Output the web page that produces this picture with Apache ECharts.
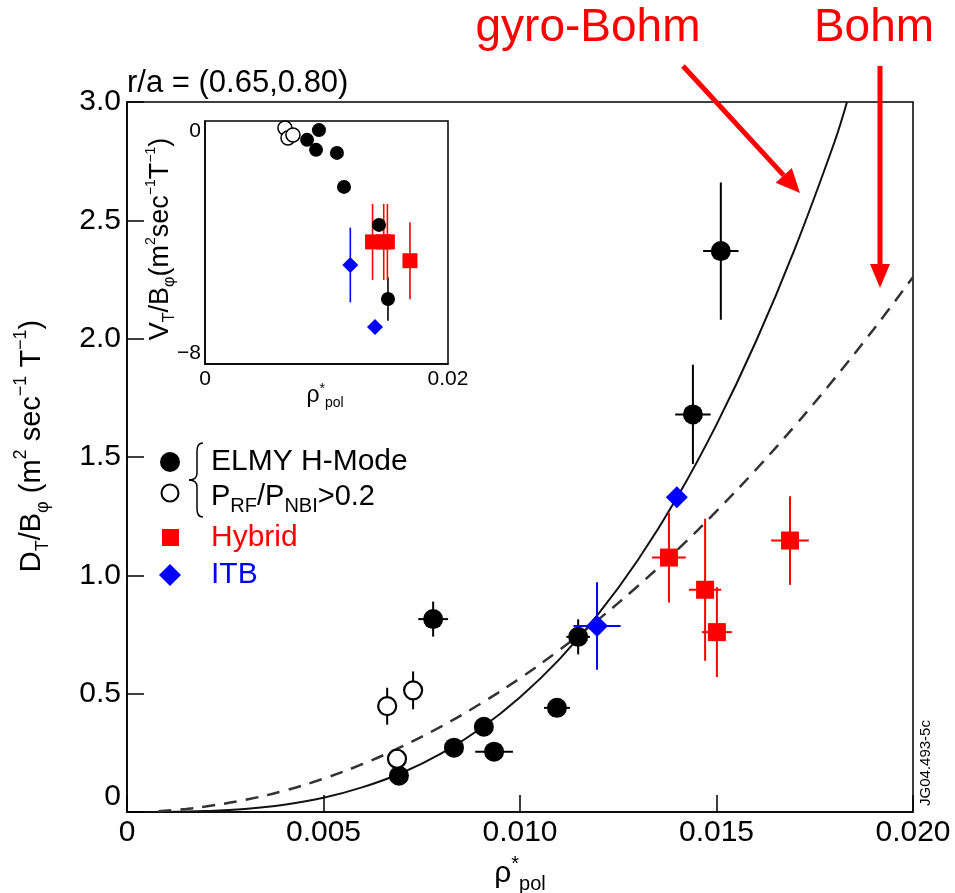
<!DOCTYPE html>
<html><head><meta charset="utf-8">
<script src="https://cdn.jsdelivr.net/npm/echarts@6/dist/echarts.min.js"></script>
<style>html,body{margin:0;padding:0;background:#fff}#c{width:955px;height:893px}</style>
</head><body><div id="c"></div>
<script>
// ---------- Main panel data: D_T/B_phi vs rho*_pol ----------
const elmyX    = [0.00692, 0.00832, 0.00908, 0.00934, 0.00779, 0.01094, 0.01148, 0.01440, 0.01511];
const elmyY    = [0.153,   0.272,   0.360,   0.255,   0.815,   0.440,   0.740,   1.680,   2.370];
const elmyXErr = [0,       0,       0,       0.00048, 0.00038, 0.00033, 0.00030, 0.00045, 0.00045];
const elmyYErr = [0,       0,       0,       0,       0.074,   0,       0.074,   0.210,   0.290];

const rfX    = [0.00662, 0.00728, 0.00687];
const rfY    = [0.447,   0.514,   0.225];
const rfXErr = [0,       0,       0];
const rfYErr = [0.078,   0.080,   0];

const hybX    = [0.01379, 0.01471, 0.01501, 0.01687];
const hybY    = [1.075,   0.939,   0.760,   1.147];
const hybXErr = [0.00043, 0.00041, 0.00038, 0.00048];
const hybYErr = [0.190,   0.300,   0.190,   0.187];

const itbX    = [0.01399, 0.01196];
const itbY    = [1.330,   0.786];
const itbXErr = [0,       0.00060];
const itbYErr = [0,       0.185];

// theory curves
const gyroBohmX = [0.0010, 0.0020, 0.0030, 0.0040, 0.0050, 0.0060, 0.0070, 0.0080, 0.0090, 0.0100, 0.0110, 0.0120, 0.0130, 0.0140, 0.0150, 0.0160, 0.0170, 0.0180, 0.01832];
const gyroBohmY = [0.000,  0.004,  0.013,  0.031,  0.060,  0.105,  0.166,  0.248,  0.353,  0.485,  0.645,  0.838,  1.065,  1.330,  1.637,  1.987,  2.383,  2.830,  3.000];
const bohmX = [0.0008, 0.0015, 0.0020, 0.0030, 0.0040, 0.0050, 0.0060, 0.0070, 0.0080, 0.0090, 0.0100, 0.0110, 0.0120, 0.0130, 0.0140, 0.0150, 0.0160, 0.0170, 0.0180, 0.0190, 0.0200];
const bohmY = [0.003,  0.013,  0.023,  0.051,  0.090,  0.141,  0.203,  0.277,  0.362,  0.458,  0.565,  0.684,  0.814,  0.955,  1.107,  1.271,  1.446,  1.633,  1.831,  2.040,  2.260];

// ---------- Inset data: V_T/B_phi vs rho*_pol ----------
const inElmyX = [0.00938, 0.00840, 0.00914, 0.01086, 0.01144, 0.01432, 0.01506];
const inElmyY = [-0.30,   -0.62,   -0.95,   -1.05,   -2.17,   -3.42,   -5.86];
const inElmyYErr = [0,    0,       0,       0,       0,       0,       0.72];
const inRfX = [0.00658, 0.00683, 0.00724];
const inRfY = [-0.23,   -0.56,   -0.46];
const inHybX = [0.01379, 0.01471, 0.01501, 0.01687];
const inHybY = [-3.98,   -3.98,   -3.98,   -4.60];
const inHybYErr = [1.25, 1.25,    1.25,    1.27];
const inItbX = [0.01196, 0.01399];
const inItbY = [-4.74,   -6.78];
const inItbYErr = [1.23, 0];

// axis ticks
const mainXTicks = [0, 0.005, 0.010, 0.015, 0.020];
const mainYTicks = [0, 0.5, 1.0, 1.5, 2.0, 2.5, 3.0];

// ---------- build ----------
const FF = '"Liberation Sans", Arial, Helvetica, sans-serif';
const zip = (...a) => a[0].map((_, i) => a.map(arr => arr[i]));
const zeros = n => new Array(n).fill(0);

function errRender(color, lw) {
  return function (params, api) {
    const x = api.value(0), y = api.value(1), xe = api.value(2), ye = api.value(3);
    const ch = [];
    if (ye > 0) {
      const a = api.coord([x, y - ye]), b = api.coord([x, y + ye]);
      ch.push({type: 'line', shape: {x1: a[0], y1: a[1], x2: b[0], y2: b[1]}, style: {stroke: color, lineWidth: lw}});
    }
    if (xe > 0) {
      const a = api.coord([x - xe, y]), b = api.coord([x + xe, y]);
      ch.push({type: 'line', shape: {x1: a[0], y1: a[1], x2: b[0], y2: b[1]}, style: {stroke: color, lineWidth: lw}});
    }
    return {type: 'group', children: ch};
  };
}
function errSeries(data, color, lw, axisIdx) {
  return {type: 'custom', xAxisIndex: axisIdx, yAxisIndex: axisIdx, renderItem: errRender(color, lw),
    dimensions: ['x', 'y', 'xe', 'ye'], encode: {x: 0, y: 1}, data: data, z: axisIdx === 1 ? 6 : 3, silent: true, clip: false};
}
function scat(xs, ys, sym, size, style, axisIdx) {
  return {type: 'scatter', xAxisIndex: axisIdx, yAxisIndex: axisIdx, symbol: sym, symbolSize: size,
    itemStyle: Object.assign({opacity: 1}, style), data: zip(xs, ys), z: axisIdx === 1 ? 7 : 5, silent: true};
}

const series = [
  {type: 'line', xAxisIndex: 0, yAxisIndex: 0, data: zip(gyroBohmX, gyroBohmY), smooth: 0.4, showSymbol: false,
    lineStyle: {color: '#111', width: 2}, z: 2, silent: true},
  {type: 'line', xAxisIndex: 0, yAxisIndex: 0, data: zip(bohmX, bohmY), smooth: 0.4, showSymbol: false,
    lineStyle: {color: '#333', width: 2.5, type: [13, 9]}, z: 2, silent: true},
  errSeries(zip(elmyX, elmyY, elmyXErr, elmyYErr), '#000', 2, 0),
  errSeries(zip(rfX, rfY, rfXErr, rfYErr), '#000', 2, 0),
  errSeries(zip(hybX, hybY, hybXErr, hybYErr), '#ff0000', 2, 0),
  errSeries(zip(itbX, itbY, itbXErr, itbYErr), '#0000ff', 2, 0),
  scat(elmyX, elmyY, 'circle', 20, {color: '#000'}, 0),
  scat(rfX, rfY, 'circle', 18, {color: '#fff', borderColor: '#000', borderWidth: 2.2}, 0),
  scat(hybX, hybY, 'rect', 18, {color: '#ff0000'}, 0),
  scat(itbX, itbY, 'diamond', 22, {color: '#0000ff'}, 0),
  // inset
  errSeries(zip(inElmyX, inElmyY, zeros(inElmyX.length), inElmyYErr), '#000', 1.6, 1),
  errSeries(zip(inHybX, inHybY, zeros(inHybX.length), inHybYErr), '#ff0000', 1.6, 1),
  errSeries(zip(inItbX, inItbY, zeros(inItbX.length), inItbYErr), '#0000ff', 1.6, 1),
  scat(inRfX, inRfY, 'circle', 14, {color: '#fff', borderColor: '#000', borderWidth: 1.5}, 1),
  scat(inElmyX, inElmyY, 'circle', 14, {color: '#000'}, 1),
  scat(inHybX, inHybY, 'rect', 15, {color: '#ff0000'}, 1),
  scat(inItbX, inItbY, 'diamond', 16, {color: '#0000ff'}, 1)
];

const axisLine = {show: true, onZero: false, lineStyle: {color: '#000', width: 1.5}};
const fmtX = v => v === 0 ? '0' : v.toFixed(3);
const fmtY = v => v === 0 ? '0' : v.toFixed(1);

function txt(x, y, text, size, color, align, vAlign, extra) {
  return Object.assign({type: 'text', x: x, y: y, z: 100, silent: true,
    style: {text: text, fill: color || '#000', font: size + 'px ' + FF, fontSize: size, fontFamily: FF,
      align: align || 'left', textAlign: align || 'left', verticalAlign: vAlign || 'middle', textVerticalAlign: vAlign || 'middle'}}, extra || {});
}
function richTxt(x, y, text, rich, rotation, align) {
  return {type: 'text', x: x, y: y, rotation: rotation || 0, z: 100, silent: true,
    style: {text: text, rich: rich, fill: '#000', align: align || 'center', textAlign: align || 'center',
      verticalAlign: 'middle', textVerticalAlign: 'middle', fontFamily: FF}};
}
function arrowHead(tip, from, len, hw) {
  const dx = tip[0] - from[0], dy = tip[1] - from[1], L = Math.hypot(dx, dy);
  const ux = dx / L, uy = dy / L, px = -uy, py = ux;
  const bx = tip[0] - ux * len, by = tip[1] - uy * len;
  return {base: [bx, by], pts: [[tip[0], tip[1]], [bx + px * hw, by + py * hw], [bx - px * hw, by - py * hw]]};
}
const gbFrom = [683, 66], gbTip = [800, 193];
const gbHead = arrowHead(gbTip, gbFrom, 24, 11);
const bFrom = [880, 66], bTip = [880, 288];
const bHead = arrowHead(bTip, bFrom, 24, 10);

const bigRich = {
  b: {fontSize: 29, fontFamily: FF, lineHeight: 40, color: '#000'},
  s: {fontSize: 18, fontFamily: FF, verticalAlign: 'bottom', color: '#000'},
  p: {fontSize: 18, fontFamily: FF, verticalAlign: 'top', color: '#000'}
};
const smallRich = {
  b: {fontSize: 27, fontFamily: FF, lineHeight: 34, color: '#000'},
  s: {fontSize: 16, fontFamily: FF, verticalAlign: 'bottom', color: '#000'},
  p: {fontSize: 14, fontFamily: FF, verticalAlign: 'top', color: '#000'}
};
const magRich = {
  b: {fontSize: 29, fontFamily: FF, lineHeight: 38, color: '#ff00ff'},
  s: {fontSize: 20, fontFamily: FF, verticalAlign: 'bottom', color: '#ff00ff'}
};
const braceStyle = {fill: 'none', stroke: '#000', lineWidth: 1.5};
function bez(x1, y1, cx, cy, x2, y2) {
  return {type: 'bezierCurve', z: 100, silent: true, shape: {x1: x1, y1: y1, cpx1: cx, cpy1: cy, x2: x2, y2: y2}, style: braceStyle};
}
function seg(x1, y1, x2, y2) {
  return {type: 'line', z: 100, silent: true, shape: {x1: x1, y1: y1, x2: x2, y2: y2}, style: braceStyle};
}

const graphic = [
  txt(127, 83, 'r/a = (0.65,0.80)', 31, '#000'),
  txt(588, 28, 'gyro-Bohm', 46, '#ff0000', 'center'),
  txt(874, 28, 'Bohm', 46, '#ff0000', 'center'),
  {type: 'line', z: 100, shape: {x1: gbFrom[0], y1: gbFrom[1], x2: gbHead.base[0], y2: gbHead.base[1]}, style: {stroke: '#ff0000', lineWidth: 5}},
  {type: 'polygon', z: 100, shape: {points: gbHead.pts}, style: {fill: '#ff0000'}},
  {type: 'line', z: 100, shape: {x1: bFrom[0], y1: bFrom[1], x2: bHead.base[0], y2: bHead.base[1]}, style: {stroke: '#ff0000', lineWidth: 5}},
  {type: 'polygon', z: 100, shape: {points: bHead.pts}, style: {fill: '#ff0000'}},
  // axis names
  richTxt(32, 446, '{b|D}{s|T}{b|/B}{s|φ}{b| (m}{p|2}{b| sec}{p|−1}{b| T}{p|−1}{b|)}', bigRich, Math.PI / 2),
  richTxt(520, 874, '{b|ρ}{p|*}{s|pol}', {
    b: {fontSize: 30, fontFamily: FF, lineHeight: 40, color: '#000'},
    p: {fontSize: 20, fontFamily: FF, verticalAlign: 'top', color: '#000'},
    s: {fontSize: 20, fontFamily: FF, verticalAlign: 'bottom', color: '#000'}}),
  richTxt(161, 239, '{b|V}{s|T}{b|/B}{s|φ}{b|(m}{p|2}{b|sec}{p|−1}{b|T}{p|−1}{b|)}', smallRich, Math.PI / 2),
  richTxt(325, 396, '{b|ρ}{p|*}{s|pol}', {
    b: {fontSize: 23, fontFamily: FF, lineHeight: 28, color: '#000'},
    p: {fontSize: 14, fontFamily: FF, verticalAlign: 'top', color: '#000'},
    s: {fontSize: 14, fontFamily: FF, verticalAlign: 'bottom', color: '#000'}}),
  // legend
  {type: 'circle', z: 100, shape: {cx: 170, cy: 462, r: 10}, style: {fill: '#000'}},
  {type: 'circle', z: 100, shape: {cx: 170, cy: 493, r: 8.5}, style: {fill: '#fff', stroke: '#000', lineWidth: 2}},
  {type: 'rect', z: 100, shape: {x: 162, y: 529, width: 17, height: 17}, style: {fill: '#ff0000'}},
  {type: 'polygon', z: 100, shape: {points: [[170, 564], [181, 575], [170, 586], [159, 575]]}, style: {fill: '#0000ff'}},
  bez(203, 443, 197, 443, 197, 451),
  seg(197, 451, 197, 473),
  bez(197, 473, 197, 480, 189, 480),
  bez(189, 480, 197, 480, 197, 487),
  seg(197, 487, 197, 509),
  bez(197, 509, 197, 517, 203, 517),
  txt(211, 462, 'ELMY H-Mode', 30, '#000'),
  richTxt(211, 497, '{b|P}{s|RF}{b|/P}{s|NBI}{b|>0.2}', magRich, 0, 'left'),
  txt(211, 538, 'Hybrid', 30, '#ff0000'),
  txt(211, 575, 'ITB', 30, '#0000ff'),
  txt(926, 763, 'JG04.493-5c', 15, '#000', 'center', 'middle', {rotation: Math.PI / 2})
];

const chart = echarts.init(document.getElementById('c'), null, {renderer: 'canvas'});
chart.setOption({
  backgroundColor: '#fff',
  animation: false,
  textStyle: {fontFamily: FF},
  grid: [
    {left: 127, top: 102, width: 786, height: 710, show: true, borderColor: '#000', borderWidth: 1.5, backgroundColor: 'transparent', containLabel: false},
    {left: 205, top: 121, width: 243, height: 243, show: true, borderColor: '#000', borderWidth: 1.5, backgroundColor: '#fff', containLabel: false, z: 4}
  ],
  xAxis: [
    {type: 'value', gridIndex: 0, min: mainXTicks[0], max: mainXTicks[mainXTicks.length - 1], interval: mainXTicks[1] - mainXTicks[0],
      axisLine: axisLine, axisTick: {show: true, inside: true, length: 17, lineStyle: {color: '#000', width: 1.5}},
      splitLine: {show: false}, axisLabel: {formatter: fmtX, fontSize: 30, color: '#000', fontFamily: FF, margin: 6}},
    {type: 'value', gridIndex: 1, min: 0, max: 0.02, interval: 0.02, z: 4,
      axisLine: axisLine, axisTick: {show: false}, splitLine: {show: false},
      axisLabel: {formatter: v => v === 0 ? '0' : '0.02', fontSize: 21, color: '#000', fontFamily: FF, margin: 5}}
  ],
  yAxis: [
    {type: 'value', gridIndex: 0, min: mainYTicks[0], max: mainYTicks[mainYTicks.length - 1], interval: mainYTicks[1] - mainYTicks[0],
      axisLine: axisLine, axisTick: {show: true, inside: true, length: 17, lineStyle: {color: '#000', width: 1.5}},
      splitLine: {show: false}, axisLabel: {formatter: fmtY, fontSize: 30, color: '#000', fontFamily: FF, margin: 6, verticalAlignMinLabel: 'bottom'}},
    {type: 'value', gridIndex: 1, min: -8, max: 0, interval: 8, z: 4,
      axisLine: axisLine, axisTick: {show: false}, splitLine: {show: false},
      axisLabel: {formatter: v => v === 0 ? '0' : '−8', fontSize: 21, color: '#000', fontFamily: FF, margin: 4,
        verticalAlignMinLabel: 'bottom', verticalAlignMaxLabel: 'top'}}
  ],
  series: series,
  graphic: graphic
});
</script></body></html>
